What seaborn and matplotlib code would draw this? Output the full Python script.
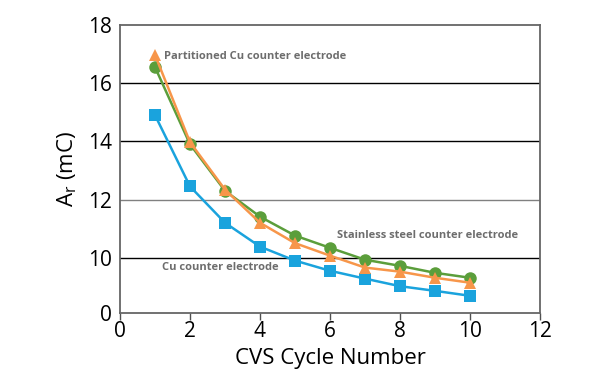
import pandas as pd
import matplotlib.pyplot as plt
import seaborn as sns

cycles = [1, 2, 3, 4, 5, 6, 7, 8, 9, 10]
cu = [14.9, 12.45, 11.2, 10.38, 9.9, 9.55, 9.28, 9.02, 8.86, 8.69]
stainless = [16.55, 13.9, 12.3, 11.41, 10.76, 10.34, 9.93, 9.72, 9.48, 9.31]
partitioned = [16.97, 13.97, 12.34, 11.2, 10.5, 10.07, 9.66, 9.52, 9.31, 9.14]

series_names = ["Cu counter electrode", "Stainless steel counter electrode",
                "Partitioned Cu counter electrode"]
ytick_vals = [8.1, 10, 12, 14, 16, 18]
ytick_labels = ["0", "10", "12", "14", "16", "18"]

df = pd.DataFrame({
    "cycle": cycles * 3,
    "Ar": cu + stainless + partitioned,
    "series": [series_names[0]] * 10 + [series_names[1]] * 10 + [series_names[2]] * 10,
})

sns.set_style("white")
plt.rcParams['font.family'] = ['Open Sans', 'DejaVu Sans']

fig = plt.figure(figsize=(6, 3.84), dpi=100)
ax = fig.add_axes([0.2, 0.185, 0.7, 0.75])

# grid lines (drawn below data)
for y, c in [(10, "black"), (12, "#808080"), (14, "black"), (16, "black")]:
    ax.axhline(y, color=c, lw=1, zorder=0)

palette = {series_names[0]: "#1aa3dd", series_names[1]: "#5b9e3b",
           series_names[2]: "#f7964a"}
markers = {series_names[0]: "s", series_names[1]: "o", series_names[2]: "^"}
for name in series_names:
    sub = df[df["series"] == name]
    sns.lineplot(data=sub, x="cycle", y="Ar", color=palette[name],
                 marker=markers[name], markersize=9, markeredgewidth=0,
                 lw=1.8, ax=ax, legend=False)

ax.set_xlim(0, 12)
ax.set_ylim(8.1, 18)
ax.set_xticks([0, 2, 4, 6, 8, 10, 12])
ax.set_yticks(ytick_vals)
ax.set_yticklabels(ytick_labels)
ax.tick_params(axis="both", labelsize=15, length=5, width=1, color="#505050",
               labelcolor="black", direction="out", bottom=True, left=False, pad=1)

for side in ["left", "right", "top", "bottom"]:
    ax.spines[side].set_color("#666666")
    ax.spines[side].set_linewidth(1.3)

ax.set_xlabel("CVS Cycle Number", fontsize=16, labelpad=4, color="black")
ax.set_ylabel("A$_\\mathregular{r}$ (mC)", fontsize=16, labelpad=6, color="black")

lab = dict(fontsize=8, fontweight="bold", color="#6d6d6d")
ax.text(1.25, 16.9, "Partitioned Cu counter electrode", va="center", **lab)
ax.text(6.2, 10.75, "Stainless steel counter electrode", va="center", **lab)
ax.text(1.2, 9.65, "Cu counter electrode", va="center", **lab)

fig.savefig("out.png", dpi=100)
